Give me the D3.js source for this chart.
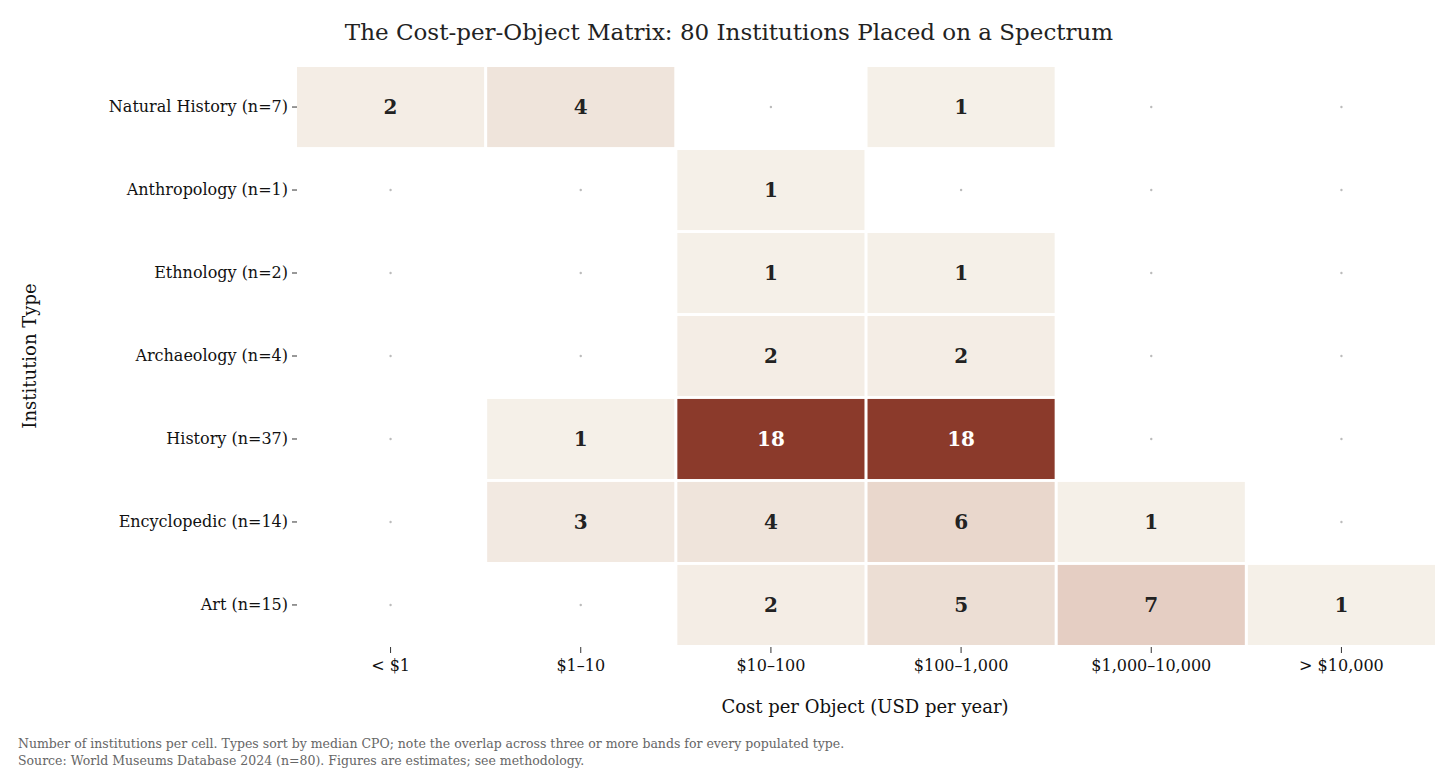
<!DOCTYPE html>
<html><head><meta charset="utf-8">
<script src="https://cdn.jsdelivr.net/npm/d3@7"></script>
<style>body{margin:0;background:#fff}text{font-family:"DejaVu Serif",serif}</style>
</head><body><svg id="chart" width="1456" height="777"></svg>
<script>
const types = ["Natural History  (n=7)", "Anthropology  (n=1)", "Ethnology  (n=2)", "Archaeology  (n=4)", "History  (n=37)", "Encyclopedic  (n=14)", "Art  (n=15)"];
const bands = ["< $1", "$1–10", "$10–100", "$100–1,000", "$1,000–10,000", "> $10,000"];
const counts = [
  [2, 4, 0, 1, 0, 0],
  [0, 0, 1, 0, 0, 0],
  [0, 0, 1, 1, 0, 0],
  [0, 0, 2, 2, 0, 0],
  [0, 1, 18, 18, 0, 0],
  [0, 3, 4, 6, 1, 0],
  [0, 0, 2, 5, 7, 1]
];

const svg = d3.select("#chart");
const x = d3.scaleBand().domain(bands).range([297, 1435]).paddingInner(0.016);
const y = d3.scaleBand().domain(types).range([67, 645]).paddingInner(0.035);
const color = d3.scalePow().exponent(1.8).domain([1, 18]).range(["#f5f0e8", "#8b3a2b"]).interpolate(d3.interpolateLab);

const cells = [];
counts.forEach((row, i) => row.forEach((v, j) => cells.push({t: types[i], b: bands[j], v})));

svg.selectAll("rect.cell").data(cells.filter(d => d.v > 0)).join("rect")
  .attr("x", d => x(d.b)).attr("y", d => y(d.t))
  .attr("width", x.bandwidth()).attr("height", y.bandwidth())
  .attr("fill", d => color(d.v));

svg.selectAll("circle.zero").data(cells.filter(d => d.v === 0)).join("circle")
  .attr("cx", d => x(d.b) + x.bandwidth() / 2).attr("cy", d => y(d.t) + y.bandwidth() / 2)
  .attr("r", 1.2).attr("fill", "#bbb");

svg.selectAll("text.val").data(cells.filter(d => d.v > 0)).join("text")
  .attr("x", d => x(d.b) + x.bandwidth() / 2).attr("y", d => y(d.t) + y.bandwidth() / 2)
  .attr("dy", "0.35em").attr("text-anchor", "middle")
  .attr("font-size", 20).attr("font-weight", "bold")
  .attr("fill", d => d.v > 10 ? "#fff" : "#222").text(d => d.v);

// axes
const yAxis = svg.append("g").attr("transform", "translate(297,0)")
  .call(d3.axisLeft(y).tickSize(5).tickPadding(4));
const xAxis = svg.append("g").attr("transform", "translate(0,647)")
  .call(d3.axisBottom(x).tickSize(6).tickPadding(7));
[yAxis, xAxis].forEach(g => {
  g.select(".domain").remove();
  g.selectAll("line").attr("stroke", "#333");
  g.selectAll("text").attr("font-size", 16).attr("fill", "#111").style("font-family", "DejaVu Serif");
});

svg.append("text").attr("x", 729).attr("y", 40).attr("text-anchor", "middle")
  .attr("font-size", 23).attr("fill", "#222")
  .text("The Cost-per-Object Matrix: 80 Institutions Placed on a Spectrum");
svg.append("text").attr("x", 865).attr("y", 713).attr("text-anchor", "middle")
  .attr("font-size", 18).attr("fill", "#111").text("Cost per Object (USD per year)");
svg.append("text").attr("transform", "translate(36,356) rotate(-90)").attr("text-anchor", "middle")
  .attr("font-size", 18).attr("fill", "#111").text("Institution Type");
svg.append("text").attr("x", 18).attr("y", 748).attr("font-size", 12.5).attr("fill", "#666")
  .text("Number of institutions per cell. Types sort by median CPO; note the overlap across three or more bands for every populated type.");
svg.append("text").attr("x", 18).attr("y", 765).attr("font-size", 12.5).attr("fill", "#666")
  .text("Source: World Museums Database 2024 (n=80). Figures are estimates; see methodology.");
</script></body></html>
